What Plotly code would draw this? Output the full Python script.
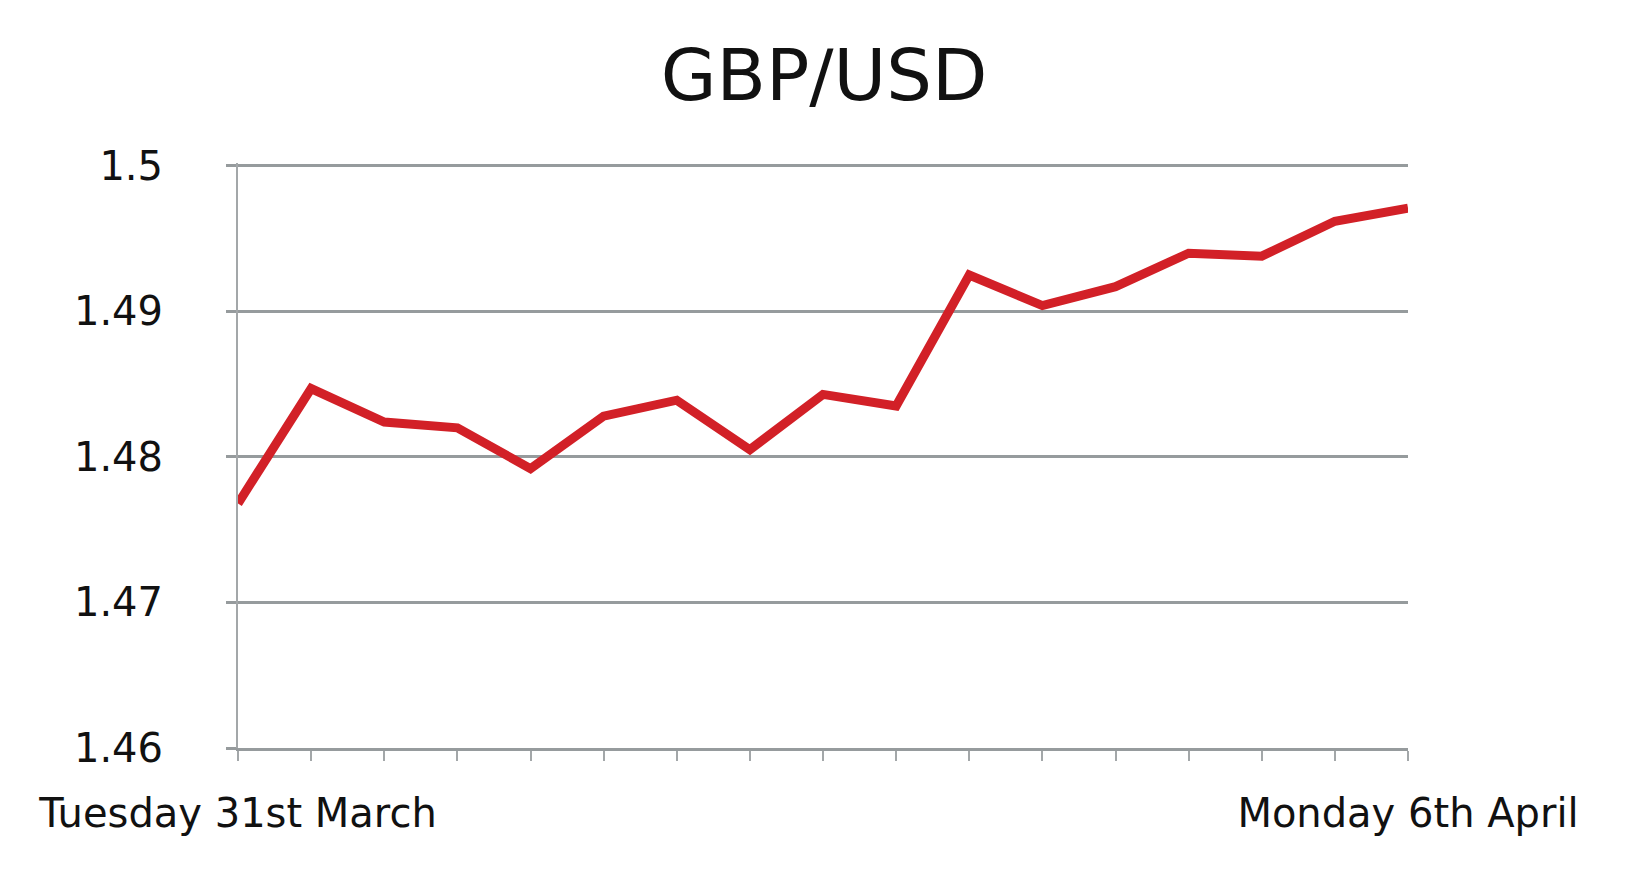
import plotly.graph_objects as go

points = list(range(17))
rates = [1.4768, 1.4847, 1.4824, 1.4820, 1.4792, 1.4828, 1.4839, 1.4805, 1.4843,
         1.4835, 1.4925, 1.4904, 1.4917, 1.4940, 1.4938, 1.4962, 1.4971]
x_labels = ["Tuesday 31st March"] + [""] * 15 + ["Monday 6th April"]
y_ticks = [1.46, 1.47, 1.48, 1.49, 1.5]
y_tick_text = ["1.46", "1.47", "1.48", "1.49", "1.5"]

grid = "#969b9d"
font = "DejaVu Sans"

fig = go.Figure()
fig.add_trace(go.Scatter(
    x=points, y=rates, mode="lines",
    line=dict(color="#d22027", width=9),
    hoverinfo="x+y", showlegend=False,
))

fig.update_layout(
    width=1642, height=885,
    paper_bgcolor="white", plot_bgcolor="white",
    margin=dict(l=230, r=242, t=155, b=145),
    title=dict(text="GBP/USD", x=0.497, xanchor="center", y=0.925, yanchor="middle",
               yref="container", font=dict(family=font, size=72, color="#111111")),
    font=dict(family=font, color="#111111"),
)
fig.update_xaxes(
    range=[0, 16], tickmode="array", tickvals=points, ticktext=x_labels,
    showgrid=False, zeroline=False,
    showline=True, linecolor=grid, linewidth=3,
    ticks="outside", ticklen=10, tickwidth=2, tickcolor="#a3a7a9",
    tickfont=dict(family=font, size=40, color="#111111"),
    ticklabelstandoff=18,
)
fig.update_yaxes(
    range=[1.46, 1.5002], tickmode="array", tickvals=y_ticks, ticktext=y_tick_text,
    showgrid=True, gridcolor=grid, gridwidth=3, zeroline=False,
    showline=True, linecolor="#a3a7a9", linewidth=2,
    ticks="outside", ticklen=10, tickwidth=3, tickcolor=grid,
    tickfont=dict(family=font, size=40, color="#111111"),
    ticklabelstandoff=55,
)

fig.write_html("out.html")
